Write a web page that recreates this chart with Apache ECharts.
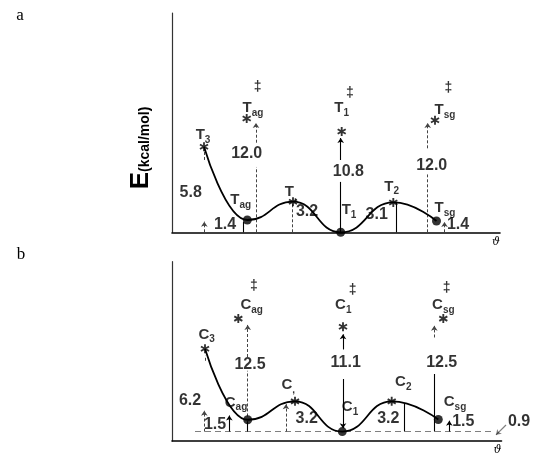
<!DOCTYPE html>
<html><head><meta charset="utf-8">
<script src="https://cdn.jsdelivr.net/npm/echarts@6/dist/echarts.min.js"></script>
<style>html,body{margin:0;padding:0;background:#fff}#c{width:533px;height:456px}</style>
</head><body><div id="c"></div>
<script>
// ================= Panel a : T conformers =================
// points on the energy curve (ϑ in arbitrary schematic units, E in kcal/mol)
const aCurveNames = ['T3', 'Tag', 'T,', 'T1', 'T2', 'Tsg'];
const aCurveX = [32, 75.3, 121, 168.7, 221.3, 264.5];
const aCurveE = [9.17, 1.32, 3.28, 0, 3.2, 1.21];
const aCurveKind = ['star', 'min', 'star', 'min', 'star', 'min'];
// transition states (‡)
const aTSNames = ['Tag‡', 'T1‡', 'Tsg‡'];
const aTSX = [74.7, 169.7, 263];
const aTSE = [12.2, 10.8, 12.0];
// text labels
const aLabelText = ['T_3', 'T_ag', '‡', 'T_1', '‡', 'T_sg', '‡', '12.0', '10.8', '12.0', '5.8', 'T_ag', '1.4', 'T_,', '3.2', 'T_1', '3.1', 'T_2', 'T_sg', '1.4'];
const aLabelX = [31, 81, 85.7, 169.7, 178, 273, 276.3, 74.7, 176.3, 259.7, 18.7, 68.7, 53, 118.7, 135, 177, 204.7, 219.7, 273, 286];
const aLabelE = [10.43, 13.3, 15.6, 13.3, 14.9, 13.1, 15.5, 8.39, 6.5, 7.2, 4.24, 3.46, 0.78, 4.3, 2.2, 2.4, 1.85, 4.9, 2.57, 0.78];
// energy-difference markers: [x, E from, E to]
const aSolid = [[71, 0, 1.1], [224.5, 0, 3.15], [168.7, 0, 5.4]];
const aSolidArrow = [[168.7, 7.75, 10.1]];
const aDashed = [[120, 0, 3.15], [84, 0, 7.0], [255.7, 0, 6.2], [32.5, 7.75, 8.6]];
const aDashedArrow = [[84, 9.6, 11.7], [255.7, 9.0, 11.7], [32.3, 0, 1.14], [272.5, 0, 1.1]];

// ================= Panel b : C conformers =================
const bCurveNames = ['C3', 'Cag', 'C,', 'C1', 'C2', 'Csg'];
const bCurveX = [33, 75.7, 123, 170.3, 219.7, 266.3];
const bCurveE = [8.77, 1.25, 3.2, 0, 3.2, 1.28];
const bCurveKind = ['star', 'min', 'star', 'min', 'star', 'min'];
const bTSNames = ['Cag‡', 'C1‡', 'Csg‡'];
const bTSX = [66.3, 171, 271.3];
const bTSE = [11.97, 11.1, 11.97];
const bLabelText = ['C_3', 'C_ag', '‡', 'C_1', '‡', 'C_sg', '‡', '12.5', '11.1', '12.5', '6.2', 'C_ag', '1.5', 'C_,', '3.2', 'C_1', 'C_2', '3.2', 'C_sg', '1.5', '0.9'];
const bLabelX = [34.7, 79.7, 82, 171.3, 180.7, 271.3, 274.7, 78, 173.7, 269.7, 18, 64, 43, 116.3, 134.7, 178, 231.3, 216.3, 283, 291.3, 347];
const bLabelE = [10.28, 13.4, 15.4, 13.4, 15.0, 13.4, 15.2, 7.14, 7.32, 7.32, 3.3, 3.06, 0.69, 4.9, 1.39, 2.6, 5.23, 1.39, 3.14, 1.05, 1.05];
const bSolid = [[232, 0, 2.96], [262.3, 0, 6.1], [75.7, 0, 1.1]];
const bSolidArrow = [[171, 5.57, 0.35], [171, 8.7, 10.3], [277.3, 0, 1.15], [57.3, 0, 1.7]];
const bDashed = [[75.7, 1.6, 6.44], [33, 7.5, 8.05]];
const bDashedArrow = [[75.7, 7.9, 11.3], [262.3, 9.97, 11.2], [32.3, 0, 2.2], [114, 0, 2.9]];
const bBaseline = [[23, 0], [323, 0]];         // dashed zero level
const bOffsetPointer = [[334, 0.69], [324, -0.35]]; // arrow from "0.9"

// ================= rendering =================
const INK = '#000';
const STAR = 'path://M-1 5L1 5L1 -5L-1 -5Z M3.83 3.37L4.83 1.63L-3.83 -3.37L-4.83 -1.63Z M-4.83 1.63L-3.83 3.37L4.83 -1.63L3.83 -3.37Z';
const FONT = 'Liberation Sans';

function fmt(t) {
  if (t === '‡') return '{d|‡}';
  if (t.indexOf('_') >= 0) { const p = t.split('_'); return '{m|' + p[0] + '}{s|' + p[1] + '}'; }
  if (/^[0-9]/.test(t)) return '{n|' + t + '}';
  return '{m|' + t + '}';
}
const rich = {
  m: { fontFamily: FONT, fontWeight: 'bold', fontSize: 15, lineHeight: 20, verticalAlign: 'middle', color: INK },
  s: { fontFamily: FONT, fontWeight: 'bold', fontSize: 10, lineHeight: 10, verticalAlign: 'bottom', color: INK },
  n: { fontFamily: FONT, fontWeight: 'bold', fontSize: 16, lineHeight: 18, color: INK },
  d: { fontFamily: FONT, fontWeight: 'bold', fontSize: 14, lineHeight: 14, color: INK }
};

function vseg(list) { return list.map(s => ({ coords: [[s[0], s[1]], [s[0], s[2]]] })); }

function panelSeries(gi, curveX, curveE, kind, names, tsNames, tsX, tsE, lblT, lblX, lblE, solid, solidArrow, dashed, dashedArrow) {
  const out = [];
  out.push({
    type: 'line', xAxisIndex: gi, yAxisIndex: gi, smooth: 0.5, smoothMonotone: 'x',
    showSymbol: false, silent: true, clip: false,
    lineStyle: { color: INK, width: 1.8 },
    data: curveX.map((x, i) => [x, curveE[i]])
  });
  const stars = [], mins = [];
  curveX.forEach((x, i) => { (kind[i] === 'star' ? stars : mins).push({ name: names[i], value: [x, curveE[i]] }); });
  tsX.forEach((x, i) => stars.push({ name: tsNames[i], value: [x, tsE[i]] }));
  out.push({ type: 'scatter', xAxisIndex: gi, yAxisIndex: gi, clip: false, symbol: STAR, symbolSize: 9,
    itemStyle: { color: INK }, data: stars, z: 5 });
  out.push({ type: 'scatter', xAxisIndex: gi, yAxisIndex: gi, clip: false, symbol: 'circle', symbolSize: 9,
    itemStyle: { color: INK }, data: mins, z: 5 });
  const ls = (type, w, c) => ({ color: c || INK, width: w, type: type, opacity: 1 });
  out.push({ type: 'lines', coordinateSystem: 'cartesian2d', xAxisIndex: gi, yAxisIndex: gi, clip: false,
    symbol: 'none', lineStyle: ls('solid', 1.1), data: vseg(solid), z: 3 });
  out.push({ type: 'lines', coordinateSystem: 'cartesian2d', xAxisIndex: gi, yAxisIndex: gi, clip: false,
    symbol: ['none', 'arrow'], symbolSize: 5, lineStyle: ls('solid', 1.1), data: vseg(solidArrow), z: 3 });
  out.push({ type: 'lines', coordinateSystem: 'cartesian2d', xAxisIndex: gi, yAxisIndex: gi, clip: false,
    symbol: 'none', lineStyle: ls([3, 2], 1, '#444'), data: vseg(dashed), z: 3 });
  out.push({ type: 'lines', coordinateSystem: 'cartesian2d', xAxisIndex: gi, yAxisIndex: gi, clip: false,
    symbol: ['none', 'arrow'], symbolSize: 5, lineStyle: ls([3, 2], 1, '#444'), data: vseg(dashedArrow), z: 3 });
  out.push({ type: 'scatter', xAxisIndex: gi, yAxisIndex: gi, clip: false, symbolSize: 1, silent: true,
    itemStyle: { color: 'rgba(0,0,0,0)' },
    label: { show: true, position: 'inside', color: INK, textBorderWidth: 0, formatter: p => fmt(p.name), rich: rich },
    data: lblT.map((t, i) => ({ name: t, value: [lblX[i], lblE[i]] })), z: 6 });
  return out;
}

const series = [].concat(
  panelSeries(0, aCurveX, aCurveE, aCurveKind, aCurveNames, aTSNames, aTSX, aTSE,
    aLabelText, aLabelX, aLabelE, aSolid, aSolidArrow, aDashed, aDashedArrow),
  panelSeries(1, bCurveX, bCurveE, bCurveKind, bCurveNames, bTSNames, bTSX, bTSE,
    bLabelText, bLabelX, bLabelE, bSolid, bSolidArrow, bDashed, bDashedArrow)
);
series.push({ type: 'lines', coordinateSystem: 'cartesian2d', xAxisIndex: 1, yAxisIndex: 1, clip: false,
  symbol: 'none', lineStyle: { color: INK, width: 1.2, type: [6, 4] }, data: [{ coords: bBaseline }], z: 2 });
series.push({ type: 'lines', coordinateSystem: 'cartesian2d', xAxisIndex: 1, yAxisIndex: 1, clip: false,
  symbol: ['none', 'arrow'], symbolSize: 5, lineStyle: { color: INK, width: 1.2 }, data: [{ coords: bOffsetPointer }], z: 2 });

const xAxisBase = (gi, max) => ({
  type: 'value', gridIndex: gi, min: 0, max: max,
  axisLine: { show: true, onZero: false, lineStyle: { color: INK, width: 1.6 } },
  axisTick: { show: false }, axisLabel: { show: false }, splitLine: { show: false },
  name: 'ϑ', nameLocation: 'end', nameGap: -4,
  nameTextStyle: { fontFamily: 'DejaVu Serif', fontStyle: 'italic', fontSize: 11, color: INK, align: 'center', verticalAlign: 'top', padding: [4, 0, 0, 0] }
});
const yAxisBase = (gi, min, max) => ({
  type: 'value', gridIndex: gi, min: min, max: max,
  axisLine: { show: true, onZero: false, lineStyle: { color: '#333', width: 1.2 } },
  axisTick: { show: false }, axisLabel: { show: false }, splitLine: { show: false }
});

const option = {
  backgroundColor: '#fff',
  animation: false,
  grid: [
    { left: 172, top: 13, width: 328, height: 219.3 },
    { left: 172, top: 261.7, width: 329.5, height: 181.6 }
  ],
  xAxis: [xAxisBase(0, 328), xAxisBase(1, 329.5)],
  yAxis: [yAxisBase(0, 0, 23.5), yAxisBase(1, -1, 18)],
  graphic: [
    { type: 'text', x: 20, y: 16, style: { text: 'a', fontFamily: 'Liberation Serif', fontSize: 17, fill: INK, align: 'center', verticalAlign: 'middle' } },
    { type: 'text', x: 21, y: 255, style: { text: 'b', fontFamily: 'Liberation Serif', fontSize: 17, fill: INK, align: 'center', verticalAlign: 'middle' } },
    { type: 'text', x: 141, y: 148, rotation: Math.PI / 2,
      style: { text: '{e|E}{k|(kcal/mol)}', align: 'center', verticalAlign: 'middle',
        rich: { e: { fontFamily: FONT, fontWeight: 'bold', fontSize: 26, fill: INK, verticalAlign: 'bottom' },
                k: { fontFamily: FONT, fontWeight: 'bold', fontSize: 14, fill: INK, verticalAlign: 'bottom', padding: [0, 0, 2, 0] } } } }
  ],
  series: series
};
const chart = echarts.init(document.getElementById('c'), null, { renderer: 'canvas' });
chart.setOption(option);
</script></body></html>
